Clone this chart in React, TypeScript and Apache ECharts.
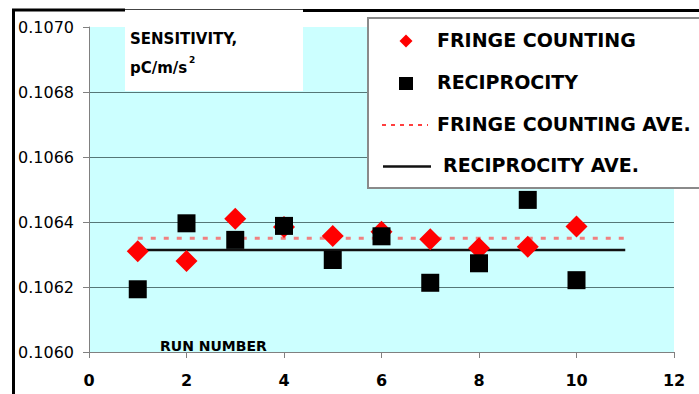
import React, { useEffect, useRef } from "react";
import * as echarts from "echarts";

const runs = [1, 2, 3, 4, 5, 6, 7, 8, 9, 10];
const fringe = [0.10631, 0.10628, 0.10641, 0.106385, 0.106357, 0.10637, 0.106347, 0.106319, 0.106324, 0.106386];
const recip = [0.106193, 0.106396, 0.106345, 0.106388, 0.106283, 0.106356, 0.106213, 0.106273, 0.106468, 0.106221];
const aveRange = [1, 11];
const fringeAve = 0.10635;
const recipAve = 0.106314;
const seriesNames = ["FRINGE COUNTING", "RECIPROCITY", "FRINGE COUNTING AVE.", "RECIPROCITY AVE."];
const yTitle = ["SENSITIVITY,", "pC/m/s", "2"];
const xTitle = "RUN NUMBER";

const FONT = '"DejaVu Sans", "Liberation Sans", sans-serif';

export default function App() {
  const ref = useRef<HTMLDivElement>(null);
  useEffect(() => {
    if (!ref.current) return;
    const chart = echarts.init(ref.current, undefined, { renderer: "svg" });
    const legendFont = `bold 19px ${FONT}`;
    chart.setOption({
      animation: false,
      backgroundColor: "#ffffff",
      grid: {
        left: 89,
        right: 25,
        top: 27,
        bottom: 42,
        show: true,
        backgroundColor: "#ccffff",
        borderWidth: 0,
      },
      xAxis: {
        type: "value",
        min: 0,
        max: 12,
        interval: 2,
        axisLine: { show: true, lineStyle: { color: "#808080", width: 1 } },
        axisTick: { show: true, length: 6, lineStyle: { color: "#808080" } },
        axisLabel: {
          margin: 20,
          color: "#000",
          fontFamily: FONT,
          fontSize: 16,
          fontWeight: "bold",
        },
        splitLine: { show: false },
      },
      yAxis: {
        type: "value",
        min: 0.106,
        max: 0.107,
        interval: 0.0002,
        axisLine: { show: true, lineStyle: { color: "#808080", width: 1 } },
        axisTick: { show: true, length: 6, lineStyle: { color: "#808080" } },
        axisLabel: {
          margin: 15,
          color: "#000",
          fontFamily: FONT,
          fontSize: 16,
          formatter: (v: number) => v.toFixed(4),
        },
        splitLine: {
          show: true,
          showMinLine: false,
          showMaxLine: false,
          lineStyle: { color: "#557777", width: 1 },
        },
      },
      series: [
        {
          name: seriesNames[2],
          type: "line",
          data: aveRange.map((x) => [x, fringeAve]),
          symbol: "none",
          lineStyle: { color: "#f08080", width: 3, type: [5, 8] },
          z: 2,
        },
        {
          name: seriesNames[3],
          type: "line",
          data: aveRange.map((x) => [x, recipAve]),
          symbol: "none",
          lineStyle: { color: "#111", width: 2.5 },
          z: 2,
        },
        {
          name: seriesNames[0],
          type: "scatter",
          data: runs.map((r, i) => [r, fringe[i]]),
          symbol: "diamond",
          symbolSize: 22,
          itemStyle: { color: "#ff0000", opacity: 1 },
          z: 3,
        },
        {
          name: seriesNames[1],
          type: "scatter",
          data: runs.map((r, i) => [r, recip[i]]),
          symbol: "rect",
          symbolSize: 18,
          itemStyle: { color: "#000000", opacity: 1 },
          z: 4,
        },
      ],
      graphic: [
        // borders
        { type: "line", z: 100, shape: { x1: 13.5, y1: 9, x2: 13.5, y2: 394 }, style: { stroke: "#000", lineWidth: 3 } },
        { type: "line", z: 100, shape: { x1: 12, y1: 10, x2: 125, y2: 10 }, style: { stroke: "#000", lineWidth: 3 } },
        { type: "line", z: 100, shape: { x1: 125, y1: 9.5, x2: 303, y2: 9.5 }, style: { stroke: "#444", lineWidth: 1 } },
        { type: "line", z: 100, shape: { x1: 303, y1: 10.5, x2: 699, y2: 10.5 }, style: { stroke: "#000", lineWidth: 3 } },
        // y title box
        { type: "rect", z: 100, shape: { x: 125, y: 11, width: 178, height: 80 }, style: { fill: "#ffffff" } },
        { type: "text", z: 101, style: { text: yTitle[0], x: 130, y: 39, font: `bold 15px ${FONT}`, fill: "#000", verticalAlign: "middle" } },
        { type: "text", z: 101, style: { text: yTitle[1], x: 130, y: 68, font: `bold 15px ${FONT}`, fill: "#000", verticalAlign: "middle" } },
        { type: "text", z: 101, style: { text: yTitle[2], x: 189, y: 60, font: `bold 9px ${FONT}`, fill: "#000", verticalAlign: "middle" } },
        // x title
        { type: "text", z: 101, style: { text: xTitle, x: 160, y: 346, font: `bold 14px ${FONT}`, fill: "#000", verticalAlign: "middle" } },
        // legend box
        { type: "rect", z: 100, shape: { x: 368, y: 18, width: 340, height: 170 }, style: { fill: "#ffffff", stroke: "#8a8a8a", lineWidth: 2 } },
        { type: "polygon", z: 101, shape: { points: [[406, 34.5], [412.5, 41], [406, 47.5], [399.5, 41]] }, style: { fill: "#ff0000" } },
        { type: "rect", z: 101, shape: { x: 399, y: 77, width: 14, height: 13 }, style: { fill: "#000" } },
        { type: "line", z: 101, shape: { x1: 382, y1: 125, x2: 428, y2: 125 }, style: { stroke: "#ff0000", lineWidth: 1.5, lineDash: [4, 5] } },
        { type: "line", z: 101, shape: { x1: 383, y1: 166.5, x2: 431, y2: 166.5 }, style: { stroke: "#111", lineWidth: 2.5 } },
        { type: "text", z: 101, style: { text: seriesNames[0], x: 437, y: 40, font: legendFont, fill: "#000", verticalAlign: "middle" } },
        { type: "text", z: 101, style: { text: seriesNames[1], x: 437, y: 82, font: legendFont, fill: "#000", verticalAlign: "middle" } },
        { type: "text", z: 101, style: { text: seriesNames[2], x: 437, y: 124, font: legendFont, fill: "#000", verticalAlign: "middle" } },
        { type: "text", z: 101, style: { text: seriesNames[3], x: 443, y: 165, font: legendFont, fill: "#000", verticalAlign: "middle" } },
      ],
    });
    return () => chart.dispose();
  }, []);
  return (
    <div
      ref={ref}
      style={{ position: "fixed", left: 0, top: 0, width: 699, height: 394 }}
    />
  );
}
